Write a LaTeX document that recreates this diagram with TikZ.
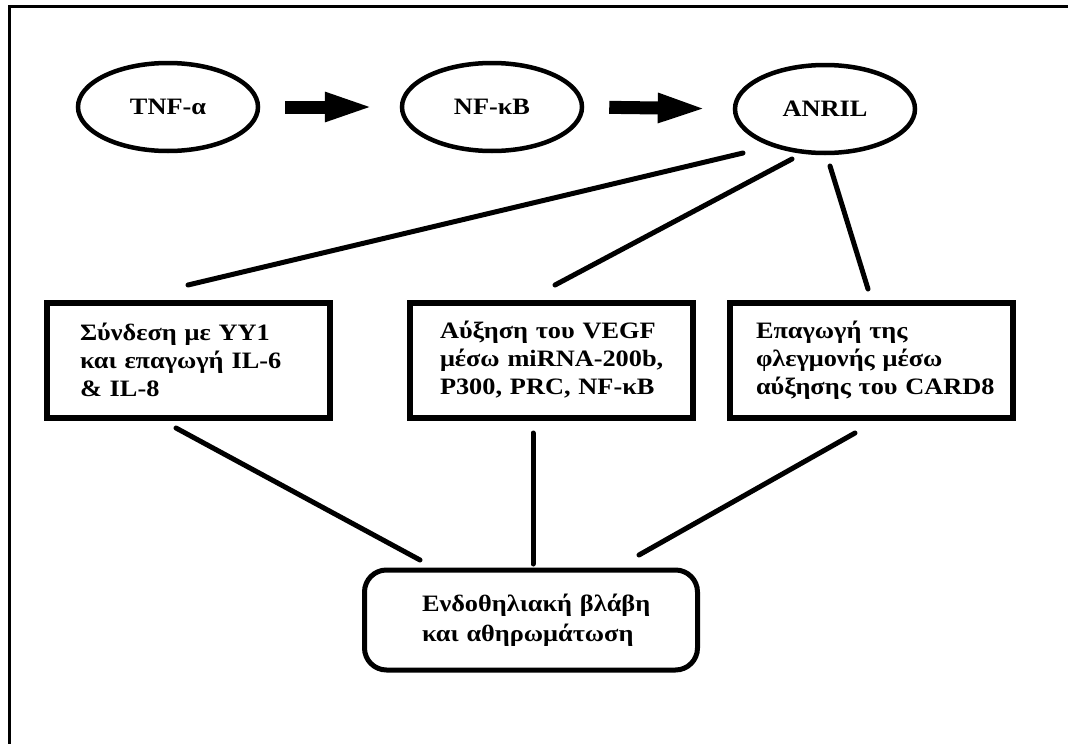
\documentclass[tikz,border=0pt]{standalone}
\usepackage{fontspec}
\setmainfont{Liberation Serif}[FakeStretch=1.12]
\usetikzlibrary{shapes.geometric,arrows.meta}
\tikzset{
  oval/.style={ellipse,draw,line width=4.5pt,minimum width=180pt,minimum height=88pt,inner sep=0pt,font=\fontsize{23.5}{28}\selectfont\bfseries},
  infobox/.style={rectangle,draw,line width=6pt,minimum width=283pt,minimum height=115pt,inner sep=0pt,align=left,font=\fontsize{23.5}{28}\selectfont\bfseries},
  endbox/.style={rectangle,draw,line width=5pt,rounded corners=22pt,minimum width=333pt,minimum height=100pt,inner sep=0pt,align=left,text width=218pt,font=\fontsize{23.5}{30}\selectfont\bfseries},
  conn/.style={line width=5pt,line cap=round},
  blockarrow/.style={line width=13pt,-{Triangle[length=51pt,width=26pt]},shorten <=25pt,shorten >=24pt},
  frame/.style={line width=3pt}
}
\begin{document}
\begin{tikzpicture}[x=1pt,y=-1pt]
\useasboundingbox (0,0) rectangle (1068,744);
\coordinate (f1) at (9,744);
\coordinate (f2) at (9,6.5);
\coordinate (f3) at (1068,6.5);
\draw[frame] (f1) -- (f2) -- (f3);

\node[oval] (tnf) at (168,107) {TNF-α};
\node[oval] (nfkb) at (492,107) {NF-κB};
\node[oval] (anril) at (825,109) {ANRIL};

\draw[blockarrow] (tnf.east) -- (nfkb.west);
\draw[blockarrow] (nfkb.east) -- (anril.west);

\node[infobox,text width=216pt] (b1) at (188,360) {\mbox{Σύνδεση με ΥΥ1}\\\mbox{και επαγωγή IL-6}\\\mbox{\& IL-8}};
\node[infobox,text width=222pt] (b2) at (551,360) {\mbox{Αύξηση του VEGF}\\\mbox{μέσω miRNA-200b,}\\\mbox{P300, PRC, NF-κB}};
\node[infobox,text width=230pt] (b3) at (871,360) {\mbox{Επαγωγή της}\\\mbox{φλεγμονής μέσω}\\\mbox{αύξησης του CARD8}};

\node[endbox] (e) at (531,620) {\mbox{Ενδοθηλιακή βλάβη}\\\mbox{και αθηρωμάτωση}};

\coordinate (a1) at (743,153);
\coordinate (a2) at (792,159);
\coordinate (a3) at (830,166);
\coordinate (t1) at (188,285);
\coordinate (t2) at (555,285);
\coordinate (t3) at (868,289);
\draw[conn] (a1) -- (t1);
\draw[conn] (a2) -- (t2);
\draw[conn] (a3) -- (t3);

\coordinate (u1) at (176,428);
\coordinate (u2) at (533,433);
\coordinate (u3) at (855,433);
\coordinate (v1) at (420,560);
\coordinate (v2) at (533,564);
\coordinate (v3) at (639,555);
\draw[conn] (u1) -- (v1);
\draw[conn] (u2) -- (v2);
\draw[conn] (u3) -- (v3);
\end{tikzpicture}
\end{document}
